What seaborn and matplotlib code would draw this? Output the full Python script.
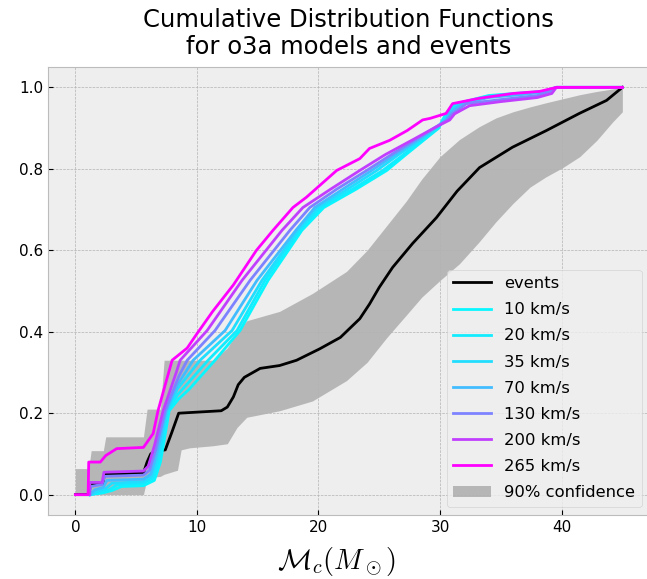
import matplotlib
matplotlib.use('Agg')
import matplotlib.pyplot as plt
import seaborn as sns

# ---------------- data ----------------
events_x = [0.0, 1.1, 1.25, 2.25, 2.4, 5.6, 5.9, 6.2, 6.5, 7.4, 7.9, 8.5, 12.0, 12.5, 13.0,
            13.4, 13.9, 15.2, 16.8, 18.2, 20.1, 21.8, 23.4, 24.2, 25.0, 26.1, 27.75, 29.7,
            31.4, 33.25, 35.96, 38.75, 41.46, 43.7, 45.0]
events_y = [0.0, 0.0, 0.025, 0.027, 0.05, 0.053, 0.08, 0.1, 0.106, 0.11, 0.15, 0.2, 0.206,
            0.215, 0.24, 0.27, 0.288, 0.31, 0.317, 0.33, 0.358, 0.386, 0.432, 0.468, 0.509,
            0.558, 0.617, 0.68, 0.745, 0.803, 0.853, 0.894, 0.936, 0.968, 1.0]

band_x = [0.0, 1.1, 1.3, 2.3, 2.5, 5.6, 5.9, 6.2, 7.0, 7.3, 8.4, 8.7, 9.4, 11.3, 12.5, 13.3,
          14.1, 16.8, 19.5, 22.3, 24.0, 25.6, 27.2, 28.5, 30.0, 31.6, 33.2, 34.6, 36.0, 37.4,
          38.7, 40.1, 41.5, 42.9, 44.2, 45.0]
band_upper = [0.064, 0.064, 0.108, 0.108, 0.142, 0.142, 0.21, 0.21, 0.21, 0.33, 0.33, 0.33,
              0.33, 0.33, 0.36, 0.40, 0.427, 0.45, 0.494, 0.548, 0.6, 0.66, 0.72, 0.775,
              0.83, 0.872, 0.903, 0.925, 0.94, 0.952, 0.962, 0.972, 0.982, 0.99, 0.996, 1.0]
band_lower = [0.0, 0.0, 0.0, 0.0, 0.0, 0.0, 0.04, 0.042, 0.045, 0.05, 0.06, 0.11, 0.115,
              0.12, 0.125, 0.165, 0.19, 0.206, 0.23, 0.28, 0.325, 0.385, 0.44, 0.485, 0.526,
              0.567, 0.62, 0.67, 0.715, 0.755, 0.78, 0.803, 0.83, 0.87, 0.915, 0.94]

velocities = [10, 20, 35, 70, 130, 200, 265]

m10_x = [1.2, 2.2, 3.0, 3.8, 5.6, 6.5, 7.0, 7.72, 8.5, 9.4, 11.49, 13.55, 15.85, 18.64, 20.44,
         23.1, 25.62, 27.2, 28.65, 29.9, 30.2, 30.6, 31.36, 34.0, 37.0, 38.6, 39.57, 45.0]
m10_y = [0.0, 0.004, 0.01, 0.02, 0.022, 0.035, 0.08, 0.206, 0.235, 0.26, 0.33, 0.403, 0.526,
         0.649, 0.705, 0.75, 0.796, 0.835, 0.87, 0.9, 0.92, 0.94, 0.96, 0.98, 0.987, 0.99, 1.0, 1.0]

m20_x = [1.2, 2.0, 2.8, 3.4, 5.6, 6.4, 6.9, 7.64, 8.4, 9.3, 10.92, 13.3, 15.6, 18.47, 20.2,
         22.8, 25.29, 27.0, 28.5, 29.8, 30.3, 30.7, 31.45, 34.0, 37.0, 38.7, 39.57, 45.0]
m20_y = [0.0, 0.006, 0.012, 0.024, 0.028, 0.04, 0.085, 0.206, 0.245, 0.275, 0.33, 0.403, 0.526,
         0.649, 0.705, 0.75, 0.796, 0.835, 0.87, 0.9, 0.92, 0.94, 0.96, 0.978, 0.986, 0.99, 1.0, 1.0]

m35_x = [1.2, 1.8, 2.5, 3.0, 5.6, 6.3, 6.8, 7.55, 8.4, 10.26, 12.89, 15.35, 18.31, 19.95, 22.4,
         24.8, 26.6, 28.33, 29.7, 30.4, 30.8, 31.6, 34.0, 37.0, 38.75, 39.57, 45.0]
m35_y = [0.0, 0.008, 0.015, 0.028, 0.032, 0.045, 0.09, 0.206, 0.26, 0.33, 0.403, 0.526, 0.649,
         0.705, 0.75, 0.796, 0.835, 0.87, 0.9, 0.92, 0.94, 0.96, 0.977, 0.985, 0.99, 1.0, 1.0]

m70_x = [1.2, 1.6, 2.3, 2.6, 5.6, 6.2, 6.7, 7.47, 8.4, 9.69, 12.32, 14.94, 18.14, 19.7, 22.0,
         24.38, 26.3, 28.16, 29.6, 30.5, 30.9, 31.85, 34.0, 37.0, 38.9, 39.57, 45.0]
m70_y = [0.0, 0.012, 0.018, 0.035, 0.038, 0.05, 0.10, 0.206, 0.27, 0.33, 0.403, 0.526, 0.649,
         0.705, 0.75, 0.796, 0.835, 0.87, 0.9, 0.92, 0.94, 0.96, 0.975, 0.983, 0.99, 1.0, 1.0]

m130_x = [1.2, 1.25, 2.2, 2.4, 5.6, 6.1, 6.6, 7.39, 8.5, 9.2, 11.49, 14.37, 17.65, 19.29, 21.5,
          23.97, 26.0, 27.9, 29.5, 30.6, 31.0, 32.18, 35.0, 38.0, 39.1, 39.57, 45.0]
m130_y = [0.0, 0.02, 0.025, 0.045, 0.048, 0.06, 0.11, 0.206, 0.29, 0.33, 0.403, 0.526, 0.649,
          0.705, 0.75, 0.796, 0.835, 0.87, 0.9, 0.92, 0.935, 0.96, 0.97, 0.98, 0.99, 1.0, 1.0]

m200_x = [1.15, 1.2, 2.2, 2.35, 5.6, 6.0, 6.5, 7.22, 8.3, 8.62, 10.84, 13.71, 17.0, 18.72, 21.0,
          23.4, 25.5, 27.67, 29.5, 30.8, 31.2, 32.43, 35.0, 38.0, 39.2, 39.57, 45.0]
m200_y = [0.0, 0.03, 0.03, 0.055, 0.058, 0.07, 0.12, 0.206, 0.3, 0.33, 0.403, 0.526, 0.649,
          0.705, 0.75, 0.796, 0.835, 0.87, 0.9, 0.92, 0.935, 0.955, 0.965, 0.975, 0.985, 1.0, 1.0]

m265_x = [0.0, 1.05, 1.1, 2.05, 2.5, 3.4, 5.6, 6.4, 6.8, 7.3, 7.96, 9.2, 10.0, 11.3, 13.0, 14.9,
          16.26, 17.9, 19.0, 21.5, 23.4, 24.2, 25.86, 27.3, 28.57, 29.2, 30.5, 31.03, 33.2,
          36.0, 38.2, 39.57, 45.0]
m265_y = [0.0, 0.0, 0.08, 0.08, 0.096, 0.113, 0.116, 0.15, 0.206, 0.26, 0.33, 0.36, 0.395,
          0.45, 0.515, 0.6, 0.649, 0.705, 0.73, 0.796, 0.825, 0.85, 0.87, 0.894, 0.92, 0.924,
          0.936, 0.96, 0.973, 0.985, 0.99, 1.0, 1.0]

models = [(m10_x, m10_y), (m20_x, m20_y), (m35_x, m35_y), (m70_x, m70_y),
          (m130_x, m130_y), (m200_x, m200_y), (m265_x, m265_y)]

# ---------------- plot ----------------
plt.style.use('bmh')
fig = plt.figure(figsize=(6.47, 5.79), dpi=100)
ax = fig.add_axes([0.0742, 0.1105, 0.930, 0.7738])

sns.lineplot(x=events_x, y=events_y, color='black', lw=2, label='events',
             estimator=None, sort=False, ax=ax)
for v, (xs, ys) in zip(velocities, models):
    sns.lineplot(x=xs, y=ys, color=plt.cm.cool(v / max(velocities)), lw=2,
                 label=f'{v} km/s', estimator=None, sort=False, ax=ax)
ax.fill_between(band_x, band_lower, band_upper, color='grey', alpha=0.5, lw=0,
                label='90% confidence', zorder=1)

ax.legend(loc='lower right', fontsize=11.8, handlelength=2.3, labelspacing=0.68)
ax.set_title('Cumulative Distribution Functions\nfor o3a models and events',
             fontsize=17.5, pad=9)
ax.set_xlabel(r'$\mathcal{M}_c(M_\odot)$', fontsize=20.5)
ax.xaxis.set_label_coords(0.48, -0.068)
ax.set_ylabel('')
ax.tick_params(labelsize=11)

fig.savefig('out.png', dpi=100)
